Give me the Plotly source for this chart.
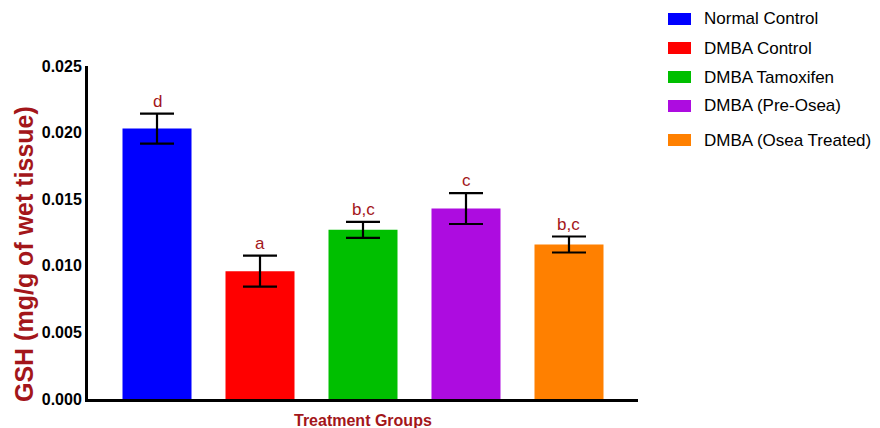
import plotly.graph_objects as go

# GSH levels by treatment group (mean ± SEM)
groups = ["Normal Control", "DMBA Control", "DMBA Tamoxifen",
          "DMBA (Pre-Osea)", "DMBA (Osea Treated)"]
gsh_mean = [0.0203, 0.0096, 0.0127, 0.0143, 0.0116]
gsh_err = [0.00113, 0.00117, 0.00060, 0.00116, 0.00060]
sig_letters = ["d", "a", "b,c", "c", "b,c"]
colors = ["#0000ff", "#ff0000", "#00bf00", "#ad0ce0", "#ff8000"]
y_ticks = [0.000, 0.005, 0.010, 0.015, 0.020, 0.025]
y_ticklabels = ["0.000", "0.005", "0.010", "0.015", "0.020", "0.025"]

DARK_RED = "#a3161a"
FONT = "Liberation Sans, Arial, sans-serif"

fig = go.Figure()
fig.add_bar(
    x=groups,
    y=gsh_mean,
    width=0.67,
    marker=dict(color=colors, line=dict(width=0)),
    error_y=dict(type="data", array=gsh_err, visible=True,
                 color="black", thickness=2.2, width=17),
    showlegend=False,
)

# significance letters above the error bars
for g, m, e, s in zip(groups, gsh_mean, gsh_err, sig_letters):
    fig.add_annotation(x=g, y=m + e, text=s, showarrow=False,
                       yanchor="bottom", yshift=1,
                       font=dict(family=FONT, size=17, color=DARK_RED))

# legend: coloured swatches with labels to the right of the plot
L, R, T, B = 88, 242, 66, 29
pw, ph = 880 - L - R, 428 - T - B
legend_rows = [19, 48, 77, 106, 140]
for name, col, py in zip(groups, colors, legend_rows):
    yc = (428 - B - py) / ph
    fig.add_shape(type="rect", xref="paper", yref="paper",
                  x0=(668 - L) / pw, x1=(691 - L) / pw,
                  y0=yc - 6 / ph, y1=yc + 6 / ph,
                  fillcolor=col, line=dict(width=0))
    fig.add_annotation(xref="paper", yref="paper", x=(702 - L) / pw, y=yc,
                       text=name, showarrow=False, xanchor="left",
                       yanchor="middle",
                       font=dict(family=FONT, size=17, color="black"))

# axis titles
fig.add_annotation(xref="paper", yref="paper", x=(24 - L) / pw,
                   y=(428 - B - 254) / ph, text="<b>GSH (mg/g of wet tissue)</b>",
                   textangle=-90, showarrow=False, xanchor="center",
                   yanchor="middle",
                   font=dict(family=FONT, size=25, color=DARK_RED))
fig.add_annotation(xref="paper", yref="paper", x=0.5,
                   y=(428 - B - 420) / ph, text="<b>Treatment Groups</b>",
                   showarrow=False, xanchor="center", yanchor="middle",
                   font=dict(family=FONT, size=16, color=DARK_RED))

fig.update_layout(
    width=880, height=428,
    margin=dict(l=L, r=R, t=T, b=B, pad=0),
    paper_bgcolor="white", plot_bgcolor="white",
    font=dict(family=FONT),
    xaxis=dict(range=[-0.67, 4.67], showticklabels=False, ticks="",
               showgrid=False, zeroline=False, showline=True,
               linecolor="black", linewidth=3),
    yaxis=dict(range=[0, 0.025], tickvals=y_ticks, ticktext=y_ticklabels,
               ticks="", showgrid=False, zeroline=False, showline=True,
               linecolor="black", linewidth=3,
               tickfont=dict(family=FONT, size=16, color="black", weight="bold")),
)

fig.write_html("out.html")
